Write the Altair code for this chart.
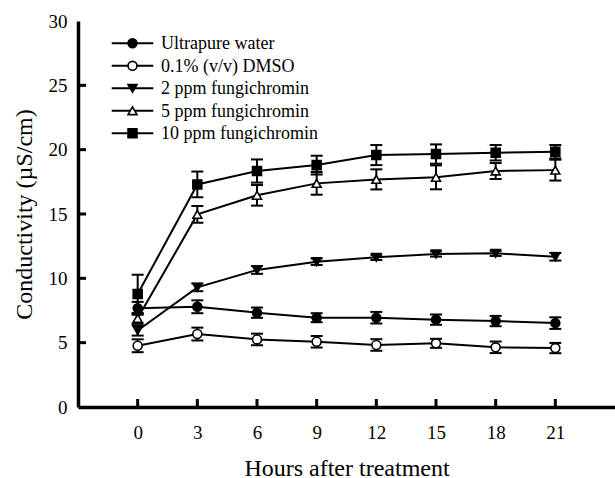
import altair as alt
import pandas as pd

hours = [0, 3, 6, 9, 12, 15, 18, 21]
series_names = ["Ultrapure water", "0.1% (v/v) DMSO", "2 ppm fungichromin",
                "5 ppm fungichromin", "10 ppm fungichromin"]
water = [7.67, 7.79, 7.33, 6.94, 6.94, 6.79, 6.68, 6.52]
water_err = [0.5, 0.5, 0.4, 0.35, 0.45, 0.4, 0.4, 0.45]
dmso = [4.76, 5.67, 5.25, 5.07, 4.82, 4.95, 4.64, 4.58]
dmso_err = [0.5, 0.5, 0.45, 0.45, 0.45, 0.35, 0.45, 0.4]
f2 = [5.95, 9.30, 10.65, 11.29, 11.63, 11.89, 11.94, 11.68]
f2_err = [0.4, 0.3, 0.3, 0.25, 0.2, 0.2, 0.2, 0.3]
f5 = [6.89, 14.97, 16.45, 17.38, 17.69, 17.85, 18.34, 18.41]
f5_err = [0.4, 0.65, 0.8, 0.88, 0.78, 0.93, 0.62, 0.81]
f10 = [8.78, 17.30, 18.34, 18.80, 19.58, 19.66, 19.76, 19.84]
f10_err = [1.5, 1.0, 0.9, 0.73, 0.78, 0.75, 0.6, 0.52]
x_ticks = [0, 3, 6, 9, 12, 15, 18, 21]
y_ticks = [0, 5, 10, 15, 20, 25, 30]

rows = []
for name, vals, errs in zip(series_names, [water, dmso, f2, f5, f10],
                            [water_err, dmso_err, f2_err, f5_err, f10_err]):
    for h, v, e in zip(hours, vals, errs):
        rows.append({"series": name, "hour": h, "value": v, "lo": v - e, "hi": v + e})
df = pd.DataFrame(rows)

FONT = "Liberation Serif"
xscale = alt.Scale(domain=[-3, 24], nice=False, zero=False)
yscale = alt.Scale(domain=[0, 30], nice=False)

shapes = ["circle", "circle", "triangle-down", "triangle-up", "square"]
fills = ["black", "white", "black", "white", "black"]

base = alt.Chart(df)
X = alt.X("hour:Q", scale=xscale,
          axis=alt.Axis(values=x_ticks, title="Hours after treatment", ticks=False,
                        grid=False, domainColor="black", domainWidth=3.5,
                        labelFont=FONT, labelFontSize=19, labelColor="black",
                        labelPadding=16, labelBaseline="top",
                        titleFont=FONT, titleFontSize=24, titleFontWeight="normal",
                        titleColor="black", titleY=68, titleBaseline="alphabetic"))
Y = alt.Y("value:Q", scale=yscale,
          axis=alt.Axis(values=y_ticks, title="Conductivity (µS/cm)", ticks=False,
                        grid=False, domainColor="black", domainWidth=3.5,
                        labelFont=FONT, labelFontSize=19, labelColor="black",
                        labelPadding=11,
                        titleFont=FONT, titleFontSize=24, titleFontWeight="normal",
                        titleColor="black", titleX=-47, titleBaseline="alphabetic"))

err_rule = base.mark_rule(color="black", strokeWidth=2).encode(
    x=alt.X("hour:Q", scale=xscale), y=alt.Y("lo:Q", scale=yscale), y2="hi:Q", detail="series:N")
cap_lo = base.mark_tick(orient="horizontal", size=12, thickness=2, color="black", opacity=1).encode(
    x=alt.X("hour:Q", scale=xscale), y=alt.Y("lo:Q", scale=yscale))
cap_hi = base.mark_tick(orient="horizontal", size=12, thickness=2, color="black", opacity=1).encode(
    x=alt.X("hour:Q", scale=xscale), y=alt.Y("hi:Q", scale=yscale))

lines = base.mark_line(color="black", strokeWidth=2).encode(
    x=X, y=Y, detail="series:N")

points = base.mark_point(filled=True, stroke="black", strokeWidth=1.6, size=80, opacity=1).encode(
    x=alt.X("hour:Q", scale=xscale), y=alt.Y("value:Q", scale=yscale),
    shape=alt.Shape("series:N", scale=alt.Scale(domain=series_names, range=shapes), legend=None),
    fill=alt.Fill("series:N", scale=alt.Scale(domain=series_names, range=fills), legend=None),
)

# inward axis ticks
xt = pd.DataFrame({"t": x_ticks})
yt = pd.DataFrame({"t": y_ticks[1:-1]})
x_tick_marks = alt.Chart(xt).mark_tick(orient="vertical", size=8, thickness=3, color="black",
                                       yOffset=-4, opacity=1).encode(
    x=alt.X("t:Q", scale=xscale), y=alt.datum(0, scale=yscale))
y_tick_marks = alt.Chart(yt).mark_tick(orient="horizontal", size=8, thickness=3, color="black",
                                       xOffset=4, opacity=1).encode(
    y=alt.Y("t:Q", scale=yscale), x=alt.datum(-3, scale=xscale))

# manual legend (line + marker + label), laid out in pixels inside the plot area
legend_layers = []
for i, (name, shp, fc) in enumerate(zip(series_names, shapes, fills)):
    yy = 22.3 + 22.5 * i
    ld = alt.Chart(pd.DataFrame({"series": [name]}))
    legend_layers.append(ld.mark_rule(color="black", strokeWidth=2).encode(
        x=alt.value(33.7), x2=alt.value(75.3), y=alt.value(yy)))
    legend_layers.append(ld.mark_point(shape=shp, filled=True, fill=fc, stroke="black",
                                       strokeWidth=1.6, size=80, opacity=1).encode(
        x=alt.value(54.5), y=alt.value(yy)))
    legend_layers.append(ld.mark_text(align="left", baseline="middle", font=FONT, fontSize=18,
                                      color="black", dy=1).encode(
        x=alt.value(83), y=alt.value(yy), text="series:N"))

chart = alt.layer(
    lines, err_rule, cap_lo, cap_hi, x_tick_marks, y_tick_marks, points, *legend_layers
).properties(
    width=537, height=386,
    autosize=alt.AutoSizeParams(type="none"),
    padding={"left": 78, "top": 21, "right": 0, "bottom": 71},
    background="white",
).configure_view(stroke=None)

chart.save("out.html", embed_options={"renderer": "svg", "actions": False})
